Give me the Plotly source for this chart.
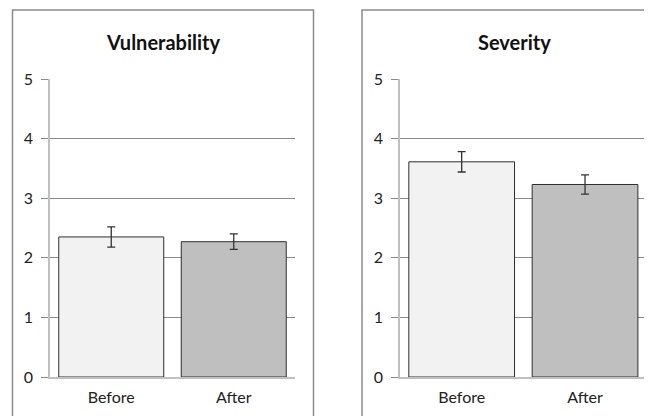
import plotly.graph_objects as go

categories = ["Before", "After"]
titles = ["Vulnerability", "Severity"]
vulnerability = [2.35, 2.27]
vulnerability_err = [0.17, 0.13]
severity = [3.61, 3.23]
severity_err = [0.17, 0.16]
bar_colors = ["#f2f2f2", "#bfbfbf"]
y_ticks = [0, 1, 2, 3, 4, 5]

W, H = 652, 416
OFF = 8  # page body margin offset
FONT = "Lato"


def fx(px):
    return (px - OFF) / W


def fy(py):
    return (H - (py - OFF)) / H


fig = go.Figure()

panels = [
    (vulnerability, vulnerability_err, "x", "y", (50, 295), 163),
    (severity, severity_err, "x2", "y2", (400, 646.7), 514),
]

for i, (vals, errs, xa, ya, (px0, px1), tx) in enumerate(panels):
    fig.add_trace(go.Bar(
        x=categories, y=vals, xaxis=xa, yaxis=ya,
        marker=dict(color=bar_colors, line=dict(color="#2e2e2e", width=1)),
        error_y=dict(type="data", array=errs, visible=True, color="#333333",
                     thickness=1.3, width=4),
        showlegend=False, hoverinfo="skip",
    ))
    sfx = "" if i == 0 else "2"
    fig.layout["xaxis" + sfx] = dict(
        domain=[fx(px0), fx(px1)], anchor=ya, automargin=False,
        showgrid=False, showline=True, linecolor="#c0c0c0", linewidth=1.5,
        ticks="", ticklabelstandoff=5,
        tickfont=dict(family=FONT, size=16, color="#222222"),
        fixedrange=True,
    )
    fig.layout["yaxis" + sfx] = dict(
        domain=[fy(377), fy(79)], anchor=xa, automargin=False,
        range=[0, 5], tickvals=y_ticks,
        showgrid=True, gridcolor="#8a8a8a", gridwidth=1,
        showline=True, linecolor="#c0c0c0", linewidth=1.5,
        ticks="outside", ticklen=7, tickcolor="#8a8a8a", tickwidth=1,
        ticklabelstandoff=5,
        tickfont=dict(family=FONT, size=16, color="#222222"),
        zeroline=False, fixedrange=True,
    )
    fig.add_annotation(
        text="<b>%s</b>" % titles[i], xref="paper", yref="paper",
        x=fx(tx), y=fy(42), showarrow=False,
        font=dict(family=FONT, size=20, color="#111111"),
        xanchor="center", yanchor="middle",
    )

# panel frames
fig.add_shape(type="rect", xref="paper", yref="paper",
              x0=fx(12.5), x1=fx(313.5), y0=-0.2, y1=fy(10),
              line=dict(color="#8a8a8a", width=1.5), fillcolor="rgba(0,0,0,0)")
fig.add_shape(type="rect", xref="paper", yref="paper",
              x0=fx(362), x1=1.2, y0=-0.2, y1=fy(10),
              line=dict(color="#8a8a8a", width=1.5), fillcolor="rgba(0,0,0,0)")

fig.update_layout(
    template="none",
    width=W, height=H, margin=dict(l=0, r=0, t=0, b=0, autoexpand=False),
    paper_bgcolor="white", plot_bgcolor="white",
    bargap=0.143,
)

fig.write_html("out.html")
